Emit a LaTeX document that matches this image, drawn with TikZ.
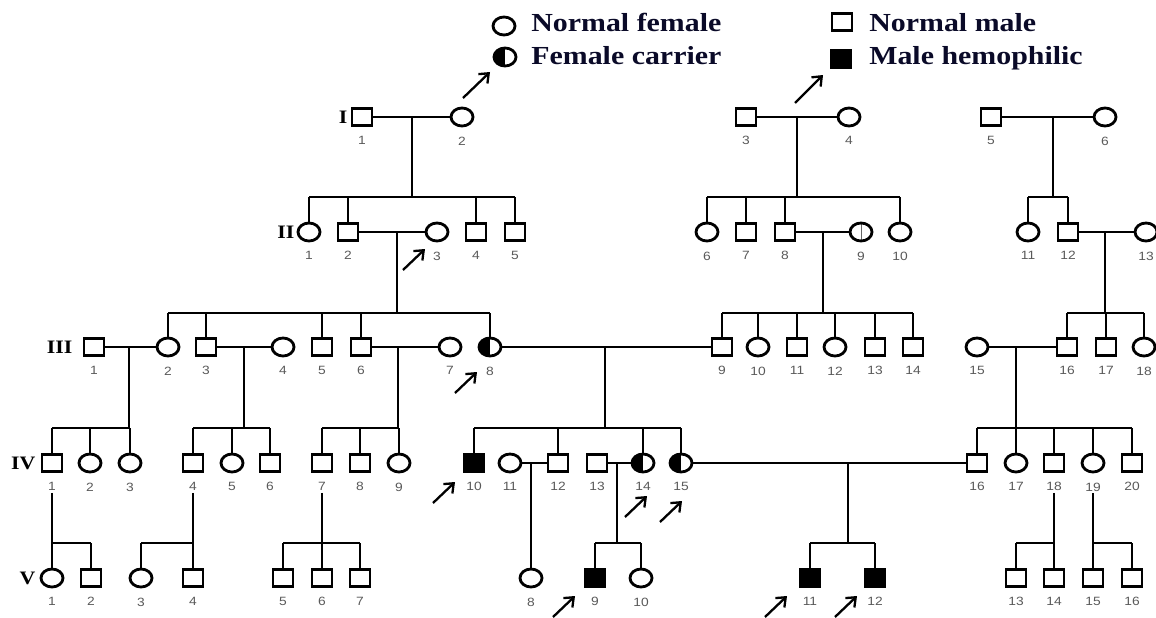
\documentclass[tikz,border=0pt]{standalone}
\usepackage{fontspec}
\setmainfont{Liberation Serif}
\newfontfamily\keyfont[FakeStretch=1.15]{Liberation Serif}
\newfontfamily\numfont[FakeStretch=1.15]{Liberation Sans}
\usetikzlibrary{shapes.geometric,positioning,arrows.meta}
\definecolor{keyink}{HTML}{0A0A28}
\tikzset{
  person/.style={draw, line width=2.8pt, inner sep=0pt},
  male/.style={person, rectangle, minimum width=20pt, minimum height=17pt},
  female/.style={person, ellipse, minimum width=22pt, minimum height=18pt},
  hemo/.style={male, fill=black},
  carrier/.style={female, path picture={\fill[black] (path picture bounding box.south west) rectangle (path picture bounding box.north);}},
  markedf/.style={female, path picture={\draw[line width=0.8pt, black!60] (path picture bounding box.north) -- (path picture bounding box.south);}},
  num/.style={font=\fontsize{12}{12}\numfont, text=black!65, inner sep=0pt, yshift=-8pt},
  genlabel/.style={font=\fontsize{19}{19}\keyfont\bfseries, inner sep=0pt},
  keytext/.style={font=\fontsize{26}{28}\keyfont\bfseries, text=keyink, inner sep=0pt},
  pointer/.style={-{Straight Barb[length=8pt,width=13pt]}, line width=2.3pt}
}
\begin{document}
\begin{tikzpicture}[x=1pt,y=-1pt,line width=2.6pt]
\useasboundingbox (0,0) rectangle (1156,618);

% key
\node[female] (keyf) at (504,26) {};
\node[carrier] (keyc) at (505,57) {};
\node[male] (keym) at (842,22) {};
\node[hemo] (keyh) at (841,59) {};
\node[keytext, anchor=base west] (keyft) at (530,32) {Normal female};
\node[keytext, anchor=base west] (keyct) at (530,65) {Female carrier};
\node[keytext, anchor=base west] (keymt) at (868,32) {Normal male};
\node[keytext, anchor=base west] (keyht) at (868,65) {Male hemophilic};

% generation I
\foreach \s/\n/\x/\k in {male/i1/362/1, female/i2/462/2, male/i3/746/3, female/i4/849/4,
    male/i5/991/5, female/i6/1105/6}
  \node[\s, label={[num]below:\k}] (\n) at (\x,117) {};

% generation II
\foreach \s/\n/\x/\k in {female/ii1/309/1, male/ii2/348/2, female/ii3/437/3, male/ii4/476/4,
    male/ii5/515/5, female/ii6/707/6, male/ii7/746/7, male/ii8/785/8, markedf/ii9/861/9,
    female/ii10/900/10, female/ii11/1028/11, male/ii12/1068/12, female/ii13/1146/13}
  \node[\s, label={[num]below:\k}] (\n) at (\x,232) {};

% generation III
\foreach \s/\n/\x/\k in {male/iii1/94/1, female/iii2/168/2, male/iii3/206/3, female/iii4/283/4,
    male/iii5/322/5, male/iii6/361/6, female/iii7/450/7, carrier/iii8/490/8,
    male/iii9/722/9, female/iii10/758/10, male/iii11/797/11, female/iii12/835/12,
    male/iii13/875/13, male/iii14/913/14, female/iii15/977/15, male/iii16/1067/16,
    male/iii17/1106/17, female/iii18/1144/18}
  \node[\s, label={[num]below:\k}] (\n) at (\x,347) {};

% generation IV
\foreach \s/\n/\x/\k in {male/iv1/52/1, female/iv2/90/2, female/iv3/130/3, male/iv4/193/4,
    female/iv5/232/5, male/iv6/270/6, male/iv7/322/7, male/iv8/360/8, female/iv9/399/9,
    hemo/iv10/474/10, female/iv11/510/11, male/iv12/558/12, male/iv13/597/13,
    carrier/iv14/643/14, carrier/iv15/681/15, male/iv16/977/16, female/iv17/1016/17,
    male/iv18/1054/18, female/iv19/1093/19, male/iv20/1132/20}
  \node[\s, label={[num]below:\k}] (\n) at (\x,463) {};

% generation V
\foreach \s/\n/\x/\k in {female/v1/52/1, male/v2/91/2, female/v3/141/3, male/v4/193/4,
    male/v5/283/5, male/v6/322/6, male/v7/360/7, female/v8/531/8, hemo/v9/595/9,
    female/v10/641/10, hemo/v11/810/11, hemo/v12/875/12, male/v13/1016/13,
    male/v14/1054/14, male/v15/1093/15, male/v16/1132/16}
  \node[\s, label={[num]below:\k}] (\n) at (\x,578) {};

% generation labels
\node[genlabel, left=2pt of i1] (gi) {I};
\node[genlabel, left=1pt of ii1] (gii) {II};
\node[genlabel, left=9pt of iii1] (giii) {III};
\node[genlabel, left=4pt of iv1] (giv) {IV};
\node[genlabel, left=3pt of v1] (gv) {V};

% marriages
\foreach \a/\b in {i1/i2, i3/i4, i5/i6, ii2/ii3, ii8/ii9, ii12/ii13, iii1/iii2, iii3/iii4,
    iii6/iii7, iii8/iii9, iii15/iii16, iv11/iv12, iv13/iv14, iv15/iv16}
  \draw (\a) -- (\b);

% descent lines from the couples
\foreach \f/\x/\y/\s in {fa/412/117/197, fb/797/117/197, fc/1053/117/197, fd/397/232/313,
    fe/823/232/313, ff/1105/232/313, fg/129/347/428, fh/244/347/428, fi/398/347/428,
    fj/605/347/428, fk/1016/347/428, fm/617/463/543, fn/848/463/543}
  {\coordinate (\f) at (\x,\y); \coordinate (\f s) at (\x,\s); \draw (\f) -- (\f s);}
\coordinate (fl) at (531,463);
\draw (fl) -- (v8);

% descent lines below single parents
\foreach \p in {iv1,iv4,iv7,iv18,iv19}
  {\coordinate (\p d) at ([yshift=-20pt]\p.south); \coordinate (\p s) at (\p d |- 0,543);
   \draw (\p d) -- (\p s);}

% sibship lines
\draw (ii1 |- fas) -- (ii5 |- fas);
\foreach \c in {ii1,ii2,ii4,ii5} \draw (\c |- fas) -- (\c);
\draw (ii6 |- fbs) -- (ii10 |- fbs);
\foreach \c in {ii6,ii7,ii8,ii10} \draw (\c |- fbs) -- (\c);
\draw (ii11 |- fcs) -- (ii12 |- fcs);
\foreach \c in {ii11,ii12} \draw (\c |- fcs) -- (\c);

\draw (iii2 |- fds) -- (iii8 |- fds);
\foreach \c in {iii2,iii3,iii5,iii6,iii8} \draw (\c |- fds) -- (\c);
\draw (iii9 |- fes) -- (iii14 |- fes);
\foreach \c in {iii9,iii10,iii11,iii12,iii13,iii14} \draw (\c |- fes) -- (\c);
\draw (iii16 |- ffs) -- (iii18 |- ffs);
\foreach \c in {iii16,iii17,iii18} \draw (\c |- ffs) -- (\c);

\draw (iv1 |- fgs) -- (iv3 |- fgs);
\foreach \c in {iv1,iv2,iv3} \draw (\c |- fgs) -- (\c);
\draw (iv4 |- fhs) -- (iv6 |- fhs);
\foreach \c in {iv4,iv5,iv6} \draw (\c |- fhs) -- (\c);
\draw (iv7 |- fis) -- (iv9 |- fis);
\foreach \c in {iv7,iv8,iv9} \draw (\c |- fis) -- (\c);
\draw (iv10 |- fjs) -- (iv15 |- fjs);
\foreach \c in {iv10,iv12,iv14,iv15} \draw (\c |- fjs) -- (\c);
\draw (iv16 |- fks) -- (iv20 |- fks);
\foreach \c in {iv16,iv17,iv18,iv19,iv20} \draw (\c |- fks) -- (\c);

\draw (v1 |- iv1s) -- (v2 |- iv1s);
\foreach \c in {v1,v2} \draw (\c |- iv1s) -- (\c);
\draw (v3 |- iv4s) -- (v4 |- iv4s);
\foreach \c in {v3,v4} \draw (\c |- iv4s) -- (\c);
\draw (v5 |- iv7s) -- (v7 |- iv7s);
\foreach \c in {v5,v6,v7} \draw (\c |- iv7s) -- (\c);
\draw (v9 |- fms) -- (v10 |- fms);
\foreach \c in {v9,v10} \draw (\c |- fms) -- (\c);
\draw (v11 |- fns) -- (v12 |- fns);
\foreach \c in {v11,v12} \draw (\c |- fns) -- (\c);
\draw (v13 |- iv18s) -- (v14 |- iv18s);
\foreach \c in {v13,v14} \draw (\c |- iv18s) -- (\c);
\draw (v15 |- iv19s) -- (v16 |- iv19s);
\foreach \c in {v15,v16} \draw (\c |- iv19s) -- (\c);

% pointers
\draw[pointer] (463,98) -- ++(27,-26);
\draw[pointer] (795,103) -- ++(28,-28);
\foreach \a/\b in {403/270, 455/393, 433/503, 625/517, 660/522, 553/617, 765/617, 835/617}
  \draw[pointer] (\a,\b) -- ++(22,-21);

\end{tikzpicture}
\end{document}
